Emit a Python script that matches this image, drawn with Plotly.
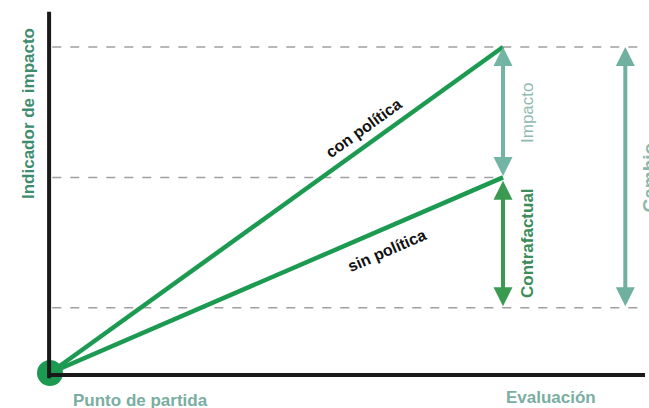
import plotly.graph_objects as go

# Logical data (x: 0 = start, 1 = evaluation; y: indicator level)
x_start, x_eval, x_cambio = 0.0, 1.0, 1.27
y_start = 0.0
y_ref = 1.0        # lower reference level
y_sin = 3.0        # without policy
y_con = 5.0        # with policy

series_names = ["con política", "sin política"]
series_end = [y_con, y_sin]

GREEN = "#1d9a52"
fig = go.Figure()

# dashed reference lines
for yv, x1 in [(y_con, 1.3135), (y_sin, 1.0), (y_ref, 1.3135)]:
    fig.add_shape(type="line", x0=0.005, x1=x1, y0=yv, y1=yv,
                  line=dict(color="#a0a0a0", width=1.5, dash="dash"), layer="below")

# axes
fig.add_shape(type="line", x0=-0.002, x1=-0.002, y0=-0.08, y1=5.54,
              line=dict(color="#1a1a1a", width=4))
fig.add_shape(type="line", x0=-0.002, x1=1.3135, y0=-0.03, y1=-0.03,
              line=dict(color="#1a1a1a", width=4))

for name, ye in zip(series_names, series_end):
    fig.add_trace(go.Scatter(x=[x_start, x_eval], y=[y_start, ye], mode="lines",
                             line=dict(color=GREEN, width=4.5), showlegend=False,
                             hoverinfo="skip"))

fig.add_trace(go.Scatter(x=[x_start], y=[y_start], mode="markers",
                         marker=dict(color=GREEN, size=26), showlegend=False,
                         cliponaxis=False, hoverinfo="skip"))

def arrow(x, y0, y1, color):
    fig.add_annotation(x=x, y=y1, ax=x, ay=y0, xref="x", yref="y", axref="x", ayref="y",
                       text="", showarrow=True, arrowhead=2, arrowside="end+start",
                       arrowsize=0.95, arrowwidth=4, arrowcolor=color, standoff=0, startstandoff=0)

arrow(x_eval, y_sin, y_con, "#72b5a5")
arrow(x_eval, y_ref, y_sin - 0.05, "#3a9a52")
arrow(x_cambio, y_ref, y_con, "#6fb0a0")

FONT = "Liberation Sans, Arial, sans-serif"

def label(text, x, y, angle=0, color="#111", size=14, bold=True, xanchor="center"):
    fig.add_annotation(x=x, y=y, xref="x", yref="y", text=f"<b>{text}</b>" if bold else text,
                       showarrow=False, textangle=angle, xanchor=xanchor,
                       font=dict(family=FONT, size=size, color=color))

def px_x(p):
    return (p - 50) / 453.0

def px_y(p):
    return (373 - p) / 65.2

label("con política", px_x(363), px_y(128), angle=-35.7, size=16)
label("sin política", px_x(387), px_y(250), angle=-23.4, size=16)
label("Impacto", px_x(527), px_y(113), angle=-90, color="#8fbab0", size=17, bold=False)
label("Contrafactual", px_x(527), px_y(243), angle=-90, color="#3a8c58", size=17)
label("Cambio", px_x(636), px_y(178), angle=-90, color="#8ab8ac", size=19, xanchor="left")
label("Indicador de impacto", px_x(28), px_y(114), angle=-90, color="#3e8c6e", size=17)
label("Punto de partida", px_x(140), px_y(400), color="#7aaea2", size=17)
label("Evaluación", px_x(551), px_y(397), color="#7aaea2", size=17)

fig.update_layout(
    width=649, height=408, margin=dict(l=0, r=0, t=0, b=0),
    paper_bgcolor="white", plot_bgcolor="white",
    xaxis=dict(range=[-50 / 453.0, 599 / 453.0], visible=False, fixedrange=True),
    yaxis=dict(range=[-35 / 65.2, 373 / 65.2], visible=False, fixedrange=True),
)

fig.write_html("out.html", config={"displayModeBar": False},
               post_script="document.body.style.margin='0';document.body.style.overflow='hidden';")
